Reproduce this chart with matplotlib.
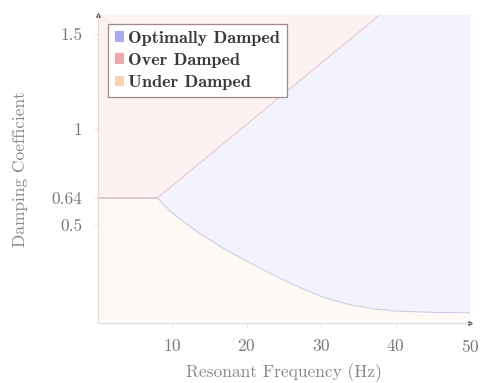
import numpy as np
import matplotlib.pyplot as plt
from matplotlib.patches import Patch

# Region boundaries
upper_x = [0, 8, 50]
upper_y = [0.64, 0.64, 1.99]
lower_x = [0, 8, 10, 13.6, 17, 20.4, 24, 27.1, 30.4, 33.8, 37, 40, 45, 50]
lower_y = [0.64, 0.64, 0.56, 0.455, 0.372, 0.30, 0.227, 0.17, 0.117, 0.08, 0.058, 0.046, 0.039, 0.037]

x_ticks = [10, 20, 30, 40, 50]
y_ticks = [0.5, 0.64, 1, 1.5]
y_tick_labels = ['0.5', '0.64', '1', '1.5']

labels = ['Optimally Damped', 'Over Damped', 'Under Damped']
fill_colors = ['#f3f3fe', '#fdf1f1', '#fef9f4']
edge_colors = ['#c8c8e4', '#e6c4c4', '#ecd8c8']
legend_colors = ['#aaaaee', '#eeaaaa', '#f8d2b0']

plt.rcParams['font.family'] = 'cmr10'
plt.rcParams['axes.formatter.use_mathtext'] = True

fig = plt.figure(figsize=(4.82, 3.83), dpi=100)
ax = fig.add_axes([0.203, 0.157, 0.772, 0.804])

top = 1.6
# over damped: above the upper boundary
ax.fill_between(upper_x, upper_y, 2.5, color=fill_colors[1], lw=0)
ax.plot(upper_x, upper_y, color=edge_colors[1], lw=0.7)
# optimally damped: between lower and upper boundary
poly_x = np.r_[lower_x, upper_x[::-1]]
poly_y = np.r_[lower_y, upper_y[::-1]]
ax.fill(poly_x, poly_y, color=fill_colors[0], lw=0)
# under damped: below the lower boundary
ax.fill_between(lower_x, 0, lower_y, color=fill_colors[2], lw=0)
ax.plot(lower_x, lower_y, color=edge_colors[0], lw=0.7)
ax.plot(upper_x[:2], upper_y[:2], color=edge_colors[1], lw=0.7)

ax.set_xlim(0, 50)
ax.set_ylim(-0.016, top)
ax.set_xticks(x_ticks)
ax.set_yticks(y_ticks)
ax.set_yticklabels(y_tick_labels)
ax.tick_params(colors='#dddddd', labelcolor='#777777', labelsize=12.5, length=3, width=0.6, pad=8)

for side in ['top', 'right']:
    ax.spines[side].set_visible(False)
for side in ['left', 'bottom']:
    ax.spines[side].set_color('#e6d6d6')
    ax.spines[side].set_linewidth(0.8)
ax.plot([0], [1], marker='^', ms=2.5, color='#555555', transform=ax.transAxes, clip_on=False)
ax.plot([1], [0], marker='>', ms=2.5, color='#555555', transform=ax.transAxes, clip_on=False)

ax.set_xlabel('Resonant Frequency (Hz)', color='#888888', fontsize=12.5, labelpad=6)
ax.set_ylabel('Damping Coefficient', color='#888888', fontsize=12.5, labelpad=17)

handles = [Patch(facecolor=c, edgecolor='none') for c in legend_colors]
leg = ax.legend(handles, labels, loc='upper left', bbox_to_anchor=(0.027, 0.971),
                borderaxespad=0, handlelength=0.5, handleheight=0.5, handletextpad=0.25,
                labelspacing=0.4, borderpad=0.38, fancybox=False, framealpha=1,
                prop={'family': 'cmb10', 'size': 13.1})
leg.get_frame().set_edgecolor('#a08888')
leg.get_frame().set_linewidth(0.9)
for t in leg.get_texts():
    t.set_color('#3a3a3a')

fig.savefig('out.png', dpi=100)
